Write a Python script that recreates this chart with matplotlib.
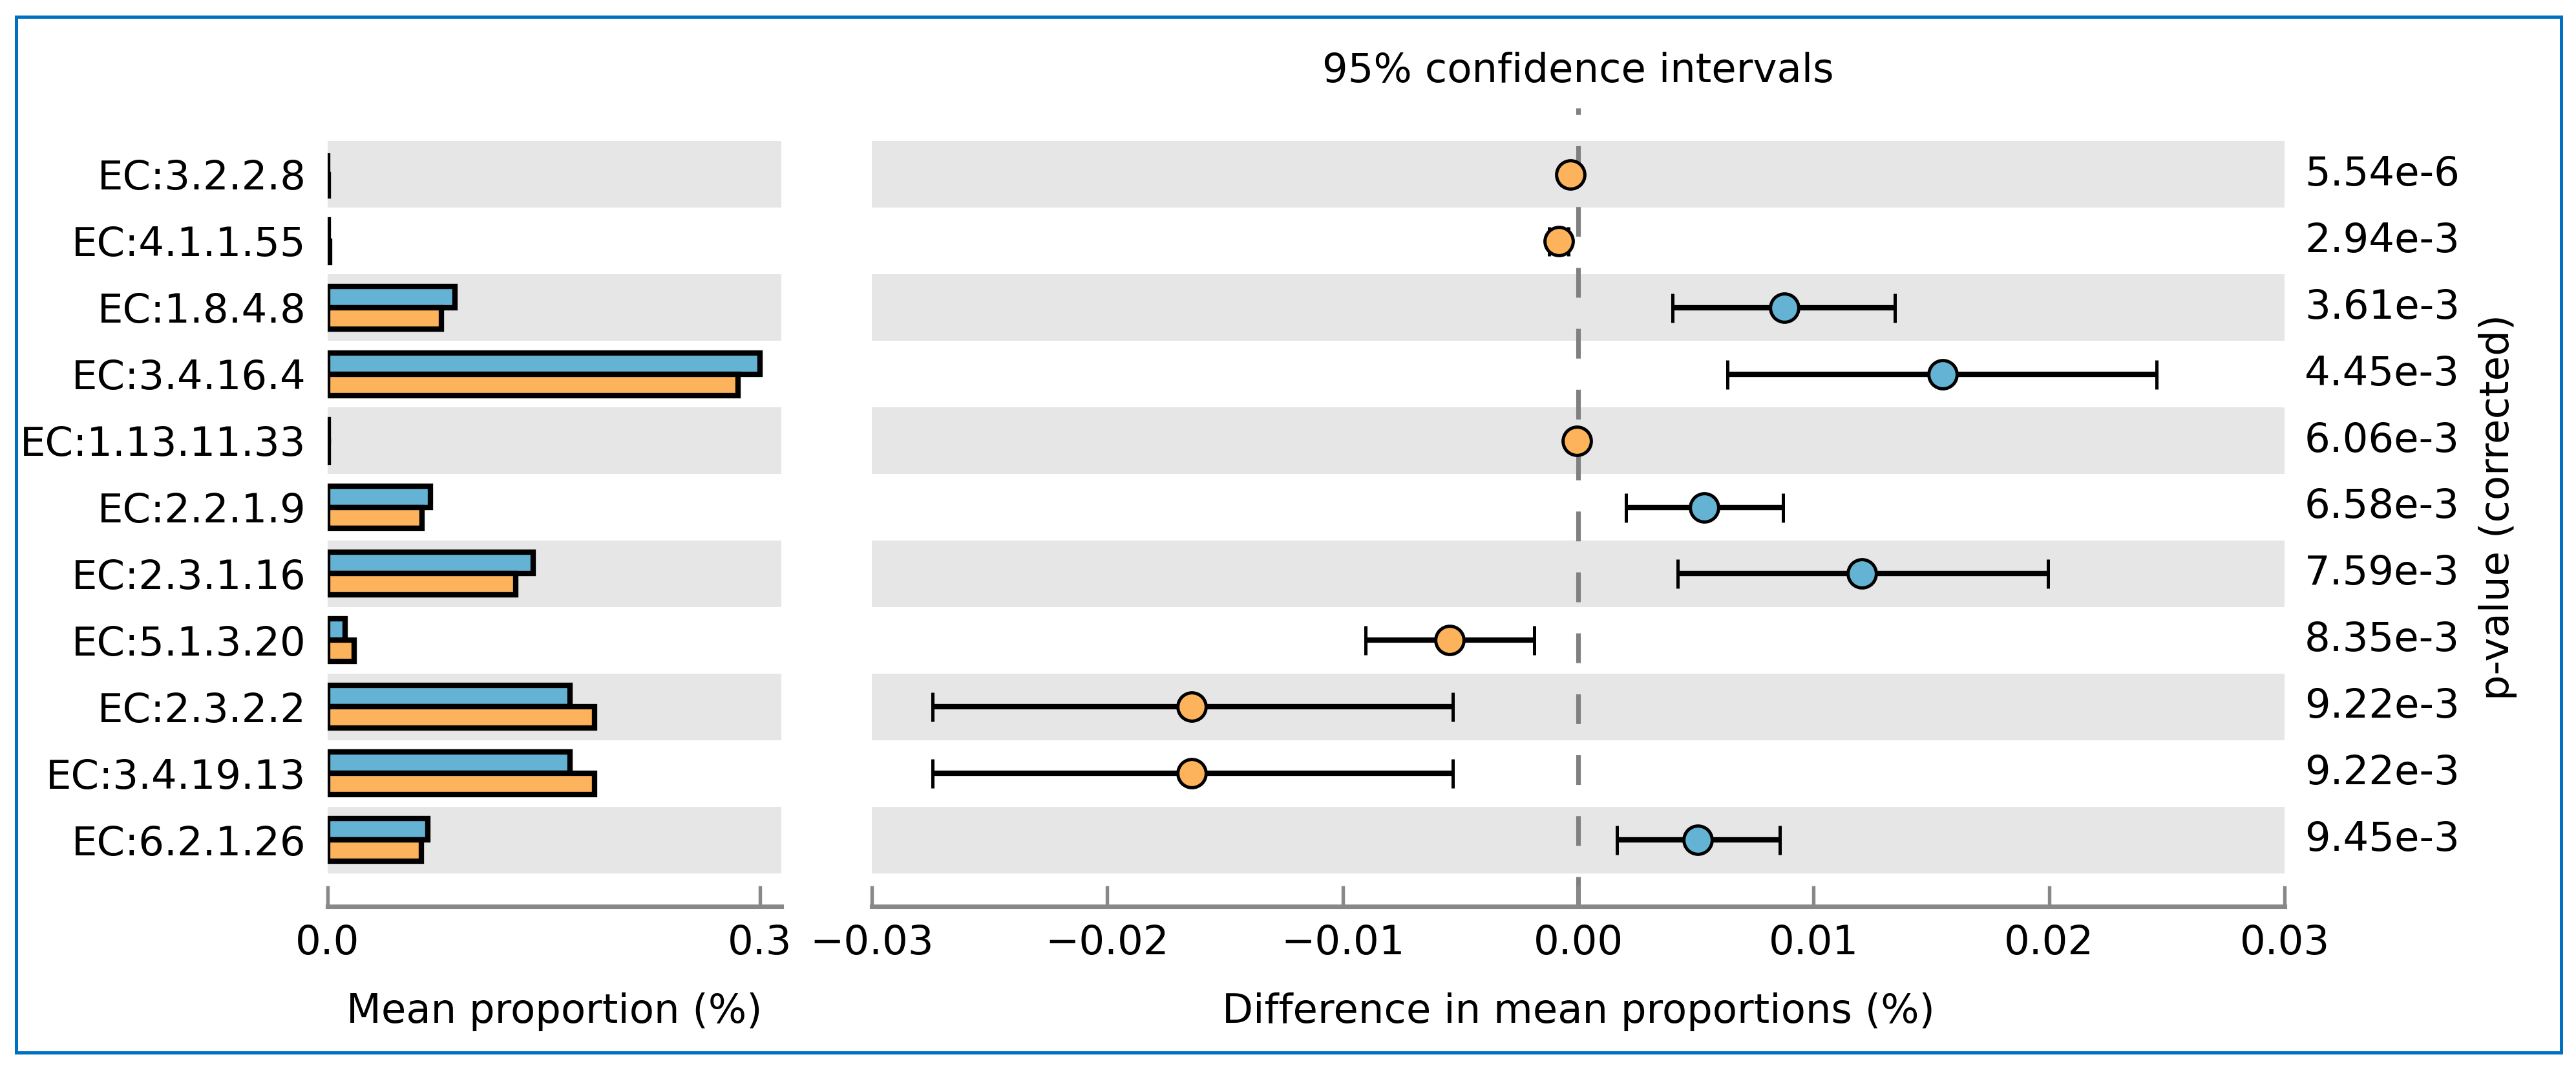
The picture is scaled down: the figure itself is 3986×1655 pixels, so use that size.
import matplotlib
matplotlib.use("Agg")
import matplotlib.pyplot as plt
from matplotlib.patches import Rectangle

# EC features, top to bottom
features = ['EC:3.2.2.8', 'EC:4.1.1.55', 'EC:1.8.4.8', 'EC:3.4.16.4', 'EC:1.13.11.33',
            'EC:2.2.1.9', 'EC:2.3.1.16', 'EC:5.1.3.20', 'EC:2.3.2.2', 'EC:3.4.19.13',
            'EC:6.2.1.26']

# mean proportions (%)
blue_mean = [0.0002, 0.0004, 0.0882, 0.2998, 0.0003, 0.0715, 0.1428, 0.0121, 0.1680, 0.1680, 0.0696]
orange_mean = [0.0005, 0.0013, 0.0789, 0.2846, 0.0003, 0.0655, 0.1305, 0.0184, 0.1854, 0.1854, 0.0648]

# difference in mean proportions and 95% CI
diff = [-0.00033, -0.00082, 0.00875, 0.01548, -0.00005, 0.00536, 0.01204, -0.00546, -0.01642, -0.01642, 0.00508]
ci_low = [-0.00040, -0.00124, 0.00400, 0.00634, -0.00010, 0.00202, 0.00423, -0.00903, -0.02742, -0.02742, 0.00165]
ci_high = [-0.00026, -0.00041, 0.01345, 0.02456, 0.00000, 0.00870, 0.01995, -0.00188, -0.00532, -0.00532, 0.00856]

pvalues = ['5.54e-6', '2.94e-3', '3.61e-3', '4.45e-3', '6.06e-3', '6.58e-3',
           '7.59e-3', '8.35e-3', '9.22e-3', '9.22e-3', '9.45e-3']

BLUE = '#64b2d4'
ORANGE = '#fdb35c'
BAND = '#e6e6e6'
FS = 15

plt.rcParams['font.family'] = ['DejaVu Sans']

W, H = 3986, 1655
fig = plt.figure(figsize=(W / 300, H / 300), dpi=300)

bottom = 1 - 1402 / H
height = (1402 - 167) / H
ax1 = fig.add_axes([507 / W, bottom, (1209 - 507) / W, height])
ax2 = fig.add_axes([1349 / W, bottom, (3535 - 1349) / W, height])

n = len(features)
ys = list(range(n))

for ax in (ax1, ax2):
    for i in ys:
        if i % 2 == 0:
            ax.axhspan(i - 0.5, i + 0.5, color=BAND, lw=0, zorder=0)
    ax.set_ylim(n, -1)
    for s in ('top', 'right', 'left'):
        ax.spines[s].set_visible(False)
    ax.spines['bottom'].set_color('#888888')
    ax.spines['bottom'].set_linewidth(1.7)
    ax.tick_params(axis='x', direction='in', length=7.7, width=1.3, color='#888888',
                   labelsize=FS, pad=6.5)

# left panel: mean proportions
bh = 0.32
ax1.barh([y - bh / 2 for y in ys], blue_mean, height=bh, color=BLUE,
         edgecolor='black', linewidth=2.0, zorder=2)
ax1.barh([y + bh / 2 for y in ys], orange_mean, height=bh, color=ORANGE,
         edgecolor='black', linewidth=2.0, zorder=2)
ax1.set_xlim(0, max(max(blue_mean), max(orange_mean)) * 1.05)
ax1.set_xticks([0, 0.3])
ax1.set_yticks(ys)
ax1.set_yticklabels(features)
ax1.tick_params(axis='y', length=0, labelsize=FS, pad=8)
ax1.set_xlabel('Mean proportion (%)', fontsize=FS, labelpad=11)

# right panel: differences with confidence intervals
ax2.axvline(0, color='#808080', lw=1.7, dashes=(6.5, 6.8), zorder=1)
for i in ys:
    c = BLUE if diff[i] > 0 else ORANGE
    ax2.errorbar(diff[i], i, xerr=[[diff[i] - ci_low[i]], [ci_high[i] - diff[i]]],
                 fmt='o', color='black', ecolor='black', elinewidth=2.0, capsize=5.4,
                 capthick=1.5, markersize=10.5, markerfacecolor=c,
                 markeredgecolor='black', markeredgewidth=1.2, zorder=3)
    ax2.text(1.0142, i, pvalues[i], transform=ax2.get_yaxis_transform(),
             ha='left', va='center', fontsize=FS)
ax2.set_xlim(-0.03, 0.03)
ax2.set_xticks([-0.03, -0.02, -0.01, 0.0, 0.01, 0.02, 0.03])
ax2.set_yticks([])
ax2.set_xlabel('Difference in mean proportions (%)', fontsize=FS, labelpad=11)
ax2.set_title('95% confidence intervals', fontsize=FS, pad=9.6)
ax2.text(1.151, 0.5, 'p-value (corrected)', transform=ax2.transAxes, rotation=90,
         ha='center', va='center', fontsize=FS)

# blue frame around the figure
fig.patches.append(Rectangle((25 / W, 1 - 1628 / H), (3963 - 25) / W, (1628 - 26) / H,
                             transform=fig.transFigure, fill=False,
                             edgecolor='#0070c0', linewidth=1.2))

fig.savefig('out.png', dpi=300)
